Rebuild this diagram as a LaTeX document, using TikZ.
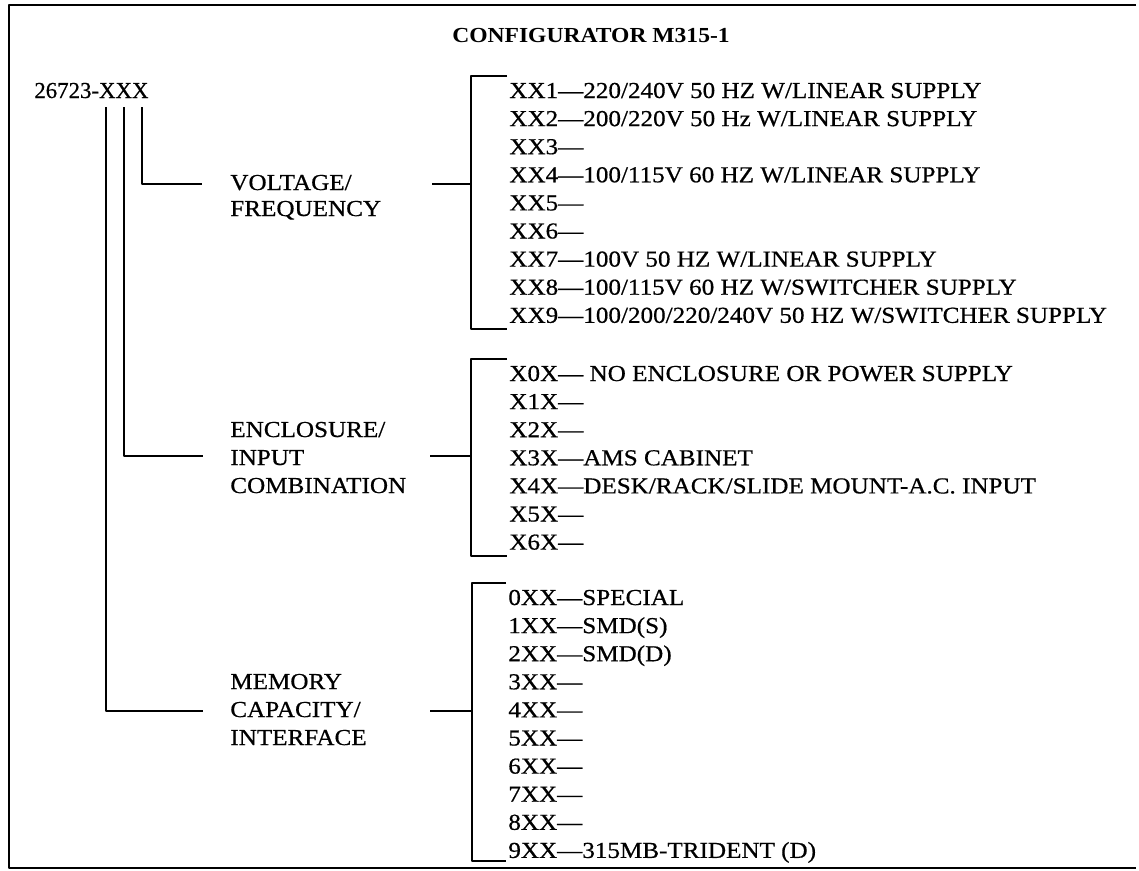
\documentclass[tikz,border=0pt]{standalone}
\usepackage{fontspec}
\setmainfont[FakeStretch=1.1, UprightFeatures={FakeBold=0.6}]{Liberation Serif}
\newfontfamily\partnofont[UprightFeatures={FakeBold=0.6}]{Liberation Serif}
\usetikzlibrary{positioning,calc}

\begin{document}
\begin{tikzpicture}[
  x=0.02cm, y=-0.02cm,
  font=\fontsize{13}{15.93}\selectfont,
  wire/.style={line width=1.1pt, line join=round},
  row/.style={anchor=base west, inner sep=0pt, text height=8.5pt, text depth=0pt},
  heading/.style={anchor=base, inner sep=0pt, font=\fontsize{12.2}{14}\selectfont\bfseries}
]
  \useasboundingbox (0,0) rectangle (1139,870);

  % frame, open on the right
  \draw[wire] (1136,5) -- (9,5) -- (9,868) -- (1136,868);

  \node[heading] (title) at (591,42) {CONFIGURATOR M315-1};
  \node[row, font=\fontsize{13}{15.93}\partnofont] (num) at (34,98) {26723-XXX};

  % group labels
  \node[row] (volt) at (230,190) {VOLTAGE/};
  \node[row] (freq) at (230,216) {FREQUENCY};
  \node[row] (encl) at (230,437) {ENCLOSURE/};
  \node[row] (inp)  at (230,465) {INPUT};
  \node[row] (comb) at (230,493) {COMBINATION};
  \node[row] (mem)  at (230,689) {MEMORY};
  \node[row] (cap)  at (230,717) {CAPACITY/};
  \node[row] (intf) at (230,745) {INTERFACE};

  % option lists
  \foreach \txt [count=\i from 0] in {XX1—220/240V 50 HZ W/LINEAR SUPPLY,
      XX2—200/220V 50 Hz W/LINEAR SUPPLY, XX3—,
      XX4—100/115V 60 HZ W/LINEAR SUPPLY, XX5—, XX6—,
      XX7—100V 50 HZ W/LINEAR SUPPLY,
      XX8—100/115V 60 HZ W/SWITCHER SUPPLY,
      XX9—100/200/220/240V 50 HZ W/SWITCHER SUPPLY}
    \node[row] (v\i) at (509,{98+28.1*\i}) {\txt};
  \foreach \txt [count=\i from 0] in {X0X— NO ENCLOSURE OR POWER SUPPLY,
      X1X—, X2X—, X3X—AMS CABINET,
      X4X—DESK/RACK/SLIDE MOUNT-A.C. INPUT, X5X—, X6X—}
    \node[row] (e\i) at (509,{381+28.1*\i}) {\txt};
  \foreach \txt [count=\i from 0] in {0XX—SPECIAL, 1XX—SMD(S), 2XX—SMD(D),
      3XX—, 4XX—, 5XX—, 6XX—, 7XX—, 8XX—, 9XX—315MB-TRIDENT (D)}
    \node[row] (m\i) at (508,{605+28.1*\i}) {\txt};

  % brackets
  \draw[wire] ($(v0.north west)+(-2,-7)$) -| ($(v8.base west)+(-38,6)$) -- ($(v8.base west)+(-2,6)$);
  \draw[wire] ($(e0.north west)+(-2,-7)$) -| ($(e6.base west)+(-38,6)$) -- ($(e6.base west)+(-2,6)$);
  \draw[wire] ($(m0.north west)+(-2,-7)$) -| ($(m9.base west)+(-36,3)$) -- ($(m9.base west)+(-2,3)$);

  % stubs into the brackets
  \coordinate (vin) at (432,184);
  \coordinate (ein) at (430,456);
  \coordinate (min) at (430,711);
  \draw[wire] (vin) -- ++(39,0);
  \draw[wire] (ein) -- ++(41,0);
  \draw[wire] (min) -- ++(42,0);

  % digit tree
  \coordinate (d1) at (106,107);
  \coordinate (d2) at (124,107);
  \coordinate (d3) at (142,107);
  \draw[wire] (d3) |- (202,184);
  \draw[wire] (d2) |- (203,456);
  \draw[wire] (d1) |- (203,711);
\end{tikzpicture}
\end{document}
